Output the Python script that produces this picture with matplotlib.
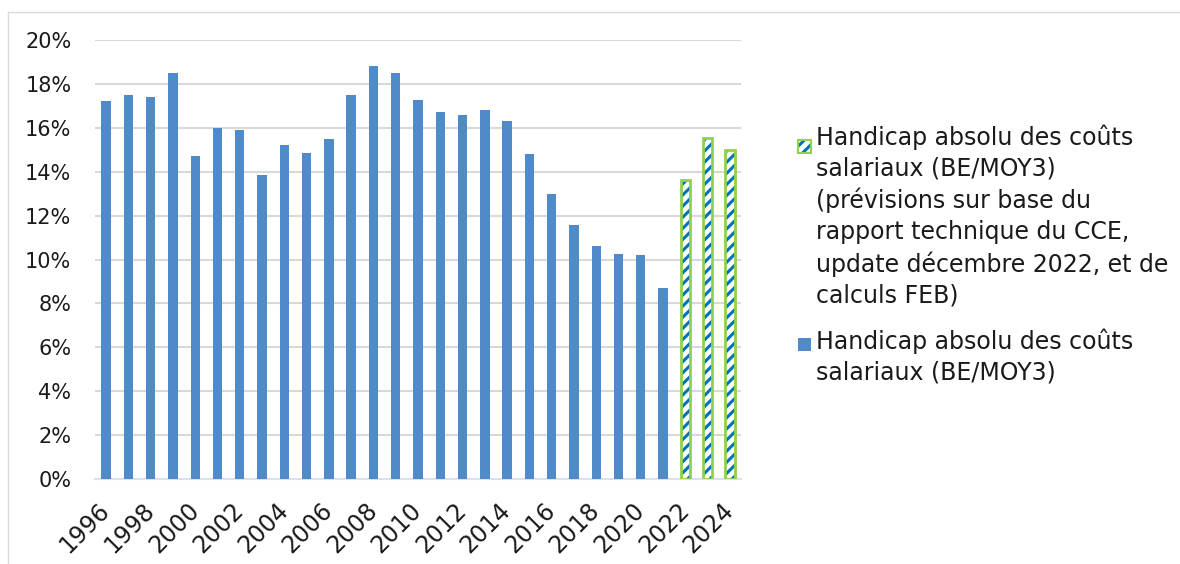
import numpy as np
import matplotlib.pyplot as plt
from matplotlib.patches import Rectangle

# Données
years = list(range(1996, 2025))
actual = [17.2, 17.5, 17.4, 18.5, 14.7, 16.0, 15.9, 13.85, 15.2, 14.87,
          15.5, 17.5, 18.83, 18.5, 17.25, 16.7, 16.6, 16.8, 16.3, 14.8,
          12.97, 11.58, 10.6, 10.25, 10.2, 8.7]
forecast_years = [2022, 2023, 2024]
forecast = [13.6, 15.55, 15.0]

label_forecast = ("Handicap absolu des coûts\nsalariaux (BE/MOY3)\n(prévisions sur base du\n"
                  "rapport technique du CCE,\nupdate décembre 2022, et de\ncalculs FEB)")
label_actual = "Handicap absolu des coûts\nsalariaux (BE/MOY3)"

blue = '#4F8BC9'
hatch_blue = '#0070C0'
green = '#92D050'

plt.rcParams['font.family'] = ['DejaVu Sans']
plt.rcParams['hatch.linewidth'] = 2.2

fig = plt.figure(figsize=(11.8, 5.64), dpi=100)
ax = fig.add_axes([95 / 1180, 1 - 479 / 564, 646 / 1180, (479 - 40) / 564])

x_act = np.arange(len(actual))
x_fc = np.array([years.index(y) for y in forecast_years])

ax.bar(x_act, actual, width=0.42, color=blue, zorder=3)
ax.bar(x_fc, forecast, width=0.42, color='white', edgecolor=hatch_blue,
       hatch='///', linewidth=0, zorder=3)
ax.bar(x_fc, forecast, width=0.42, fill=False, edgecolor=green,
       linewidth=2, zorder=4)

ax.set_xlim(-0.5, len(years) - 0.5)
ax.set_ylim(0, 20)
ax.set_yticks(np.arange(0, 21, 2))
ax.set_yticklabels([f'{v}%' for v in range(0, 21, 2)], fontsize=15, color='#1A1A1A')
ax.set_xticks(np.arange(0, len(years), 2))
ax.set_xticklabels([str(y) for y in years[::2]], rotation=45, ha='right', va='center',
                   rotation_mode='anchor', fontsize=17, color='#1A1A1A')
ax.tick_params(axis='y', length=0, pad=17)
ax.tick_params(axis='x', length=0, pad=20)
ax.grid(axis='y', color='#D9D9D9', linewidth=1.5, zorder=0)
for s in ['top', 'right', 'left']:
    ax.spines[s].set_visible(False)
ax.spines['bottom'].set_color('#D9E1F2')
ax.spines['bottom'].set_linewidth(1.5)

# cadre du graphique
fig.add_artist(plt.Line2D([8 / 1180, 8 / 1180], [0, 1 - 12 / 564],
                          transform=fig.transFigure, color='#D9D9D9', lw=1))
fig.add_artist(plt.Line2D([8 / 1180, 1], [1 - 12 / 564, 1 - 12 / 564],
                          transform=fig.transFigure, color='#D9D9D9', lw=1))

# légende
def px(x, y):
    return x / 1180, 1 - y / 564

fig.add_artist(Rectangle(px(798, 153), 13 / 1180, 13 / 564, transform=fig.transFigure,
                         facecolor='white', edgecolor=hatch_blue, hatch='///', lw=0))
fig.add_artist(Rectangle(px(798, 153), 13 / 1180, 13 / 564, transform=fig.transFigure,
                         fill=False, edgecolor=green, lw=1.5))
fig.add_artist(Rectangle(px(798, 351), 13 / 1180, 13 / 564, transform=fig.transFigure,
                         facecolor=blue, lw=0))
fig.text(*px(816, 124), label_forecast, fontsize=17, va='top', ha='left',
         linespacing=1.36, color='#1A1A1A')
fig.text(*px(816, 328), label_actual, fontsize=17, va='top', ha='left',
         linespacing=1.36, color='#1A1A1A')

fig.savefig('out.png', dpi=100)
